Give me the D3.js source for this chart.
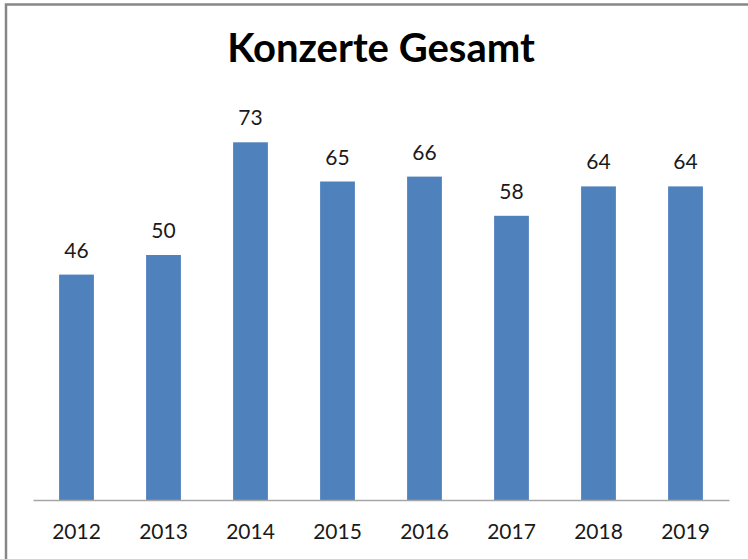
<!DOCTYPE html>
<html>
<head>
<meta charset="utf-8">
<script src="https://cdn.jsdelivr.net/npm/d3@7"></script>
<style>
  html, body { margin: 0; padding: 0; background: #fff; }
  svg { display: block; }
</style>
</head>
<body>
<svg id="chart" width="748" height="559"></svg>
<script>
// Concert totals per year
const years = ["2012", "2013", "2014", "2015", "2016", "2017", "2018", "2019"];
const concerts = [46, 50, 73, 65, 66, 58, 64, 64];
const chartTitle = "Konzerte Gesamt";

const svg = d3.select("#chart");
const W = 748, H = 559;
const font = "Lato, 'Open Sans', sans-serif";

// outer frame (runs past the right and bottom edges)
svg.append("rect")
  .attr("x", 6).attr("y", 4.5)
  .attr("width", W + 20).attr("height", H + 20)
  .attr("fill", "#fff")
  .attr("stroke", "#878787")
  .attr("stroke-width", 2.5);

const x = d3.scaleBand()
  .domain(years)
  .range([33, 729])
  .paddingInner(0.6)
  .paddingOuter(0.3);

const y = d3.scaleLinear()
  .domain([0, 80])
  .range([500, 108]);

// bars
svg.append("g")
  .selectAll("rect")
  .data(years)
  .join("rect")
  .attr("x", d => x(d))
  .attr("y", (d, i) => y(concerts[i]))
  .attr("width", x.bandwidth())
  .attr("height", (d, i) => y(0) - y(concerts[i]))
  .attr("fill", "#4F81BD");

// value labels
svg.append("g")
  .selectAll("text")
  .data(years)
  .join("text")
  .attr("x", d => x(d) + x.bandwidth() / 2)
  .attr("y", (d, i) => y(concerts[i]) - 17)
  .attr("text-anchor", "middle")
  .attr("font-family", font)
  .attr("font-size", 21)
  .attr("fill", "#1a1a1a")
  .text((d, i) => concerts[i]);

// category axis
const xAxis = svg.append("g")
  .attr("transform", `translate(0,${y(0)})`)
  .call(d3.axisBottom(x).tickSize(0).tickPadding(0));
xAxis.select(".domain")
  .attr("stroke", "#a6a6a6")
  .attr("stroke-width", 1.5);
xAxis.selectAll("text")
  .attr("font-family", font)
  .attr("font-size", 21)
  .attr("fill", "#1a1a1a")
  .attr("dy", 0)
  .attr("y", 39);

// title
svg.append("text")
  .attr("x", 381)
  .attr("y", 62)
  .attr("text-anchor", "middle")
  .attr("font-family", font)
  .attr("font-weight", "bold")
  .attr("font-size", 40)
  .attr("fill", "#000")
  .text(chartTitle);
</script>
</body>
</html>
